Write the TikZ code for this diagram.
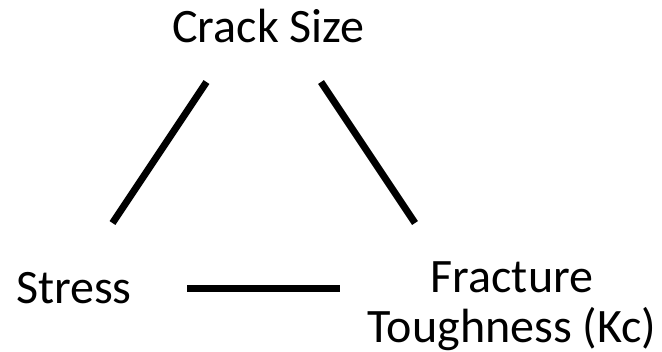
\documentclass[tikz,border=0pt]{standalone}
\usepackage{fontspec}
\setmainfont{Carlito}
\begin{document}
\begin{tikzpicture}[x=1bp,y=-1bp,
  lbl/.style={inner sep=0pt, outer sep=0pt, font=\fontsize{48.2}{49.2}\selectfont, align=center},
  link/.style={line width=7bp, line cap=butt, black}]
\useasboundingbox (0,0) rectangle (662,351);
\node[lbl, anchor=base] (crack) at (268.5,42) {Crack Size};
\node[lbl, anchor=base west] (stress) at (16,303) {Stress};
\node[lbl, anchor=base] (frac) at (512,342) {Fracture\\Toughness (Kc)};
\coordinate (l1) at (206.5,82);
\coordinate (l2) at (112.5,223);
\coordinate (r1) at (321,82);
\coordinate (r2) at (415,223);
\coordinate (h1) at (187,288);
\coordinate (h2) at (340,288);
\draw[link] (l1) -- (l2);
\draw[link] (r1) -- (r2);
\draw[link] (h1) -- (h2);
\end{tikzpicture}
\end{document}
